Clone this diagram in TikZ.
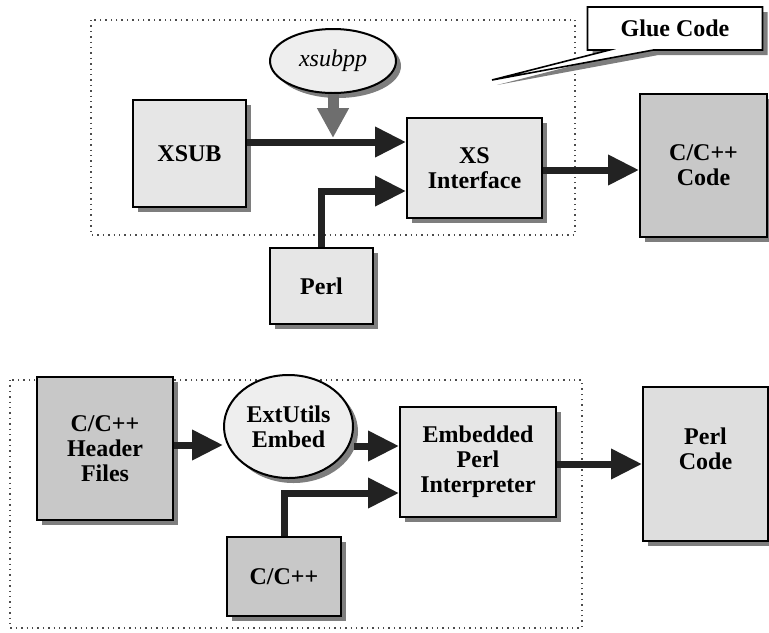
\documentclass[tikz,border=0pt]{standalone}
\usepackage{fontspec}
\setmainfont{Liberation Serif}
\usetikzlibrary{arrows.meta,shapes.geometric,shapes.callouts,shadows}

\definecolor{lightfill}{HTML}{E6E6E6}
\definecolor{darkfill}{HTML}{C8C8C8}
\definecolor{ovalfill}{HTML}{EEEEEE}
\definecolor{shadowgray}{HTML}{7E7E7E}
\definecolor{arrowblack}{HTML}{222222}
\definecolor{tipgray}{HTML}{6E6E6E}

\begin{document}
\begin{tikzpicture}[x=0.5pt,y=-0.5pt,
    font=\fontsize{12}{12.5}\selectfont\bfseries,
    dropsh/.style={drop shadow={shadow xshift=2.5pt,shadow yshift=-2.5pt,
                   fill=shadowgray,opacity=1}},
    blk/.style={draw,line width=1pt,fill=lightfill,inner sep=0pt,
                align=center,dropsh},
    dblk/.style={blk,fill=darkfill},
    oval/.style={draw,ellipse,line width=1pt,fill=ovalfill,inner sep=0pt,
                 align=center,dropsh},
    flow/.style={line width=3.5pt,draw=arrowblack,line join=miter,
                 -{Triangle[length=15.5pt,width=14.5pt]}},
    groupframe/.style={draw=black!70,dotted,line width=0.7pt}]
  \useasboundingbox (0,0) rectangle (769,632);

  % upper part: XS glue
  \draw[groupframe] (91,20) rectangle (575,235);
  \node[blk,minimum width=56.5pt,minimum height=53.5pt] (xsub) at (189.5,153.5) {XSUB};
  \node[oval,minimum width=63pt,minimum height=32pt] (xsubpp) at (333,61)
        {\mdseries\itshape xsubpp};
  \node[blk,minimum width=67.5pt,minimum height=50pt] (xs) at (474.5,168)
        {XS\\Interface};
  \node[blk,minimum width=51.5pt,minimum height=38pt] (perl) at (321.5,286) {Perl};
  \node[dblk,minimum width=63.5pt,minimum height=71.5pt] (ccode) at (703.5,165.5)
        {C/C++\\Code};
  \node[rectangle callout,draw,line width=0.8pt,fill=white,dropsh,
        minimum width=87.5pt,minimum height=21.5pt,inner sep=0pt,
        callout absolute pointer={(492,80)},callout pointer width=22pt]
        (glue) at (675,28.5) {Glue Code};

  \draw[flow] (xsub.east|-0,142) -- (xs.west|-0,142);
  \draw[flow] (perl.north) |- (xs.west|-0,191);
  \draw[flow] (xs.east|-0,170) -- (ccode.west|-0,170);
  \draw[line width=5.5pt,draw=tipgray,fill=tipgray,
        -{Triangle[length=15pt,width=15pt]}]
        (xsubpp.south) -- (xsubpp.south|-0,138);

  % lower part: embedding
  \draw[groupframe] (10,380) rectangle (582,628);
  \node[dblk,minimum width=68pt,minimum height=71.5pt] (header) at (105,448.5)
        {C/C++\\Header\\Files};
  \node[oval,minimum width=64.5pt,minimum height=51.5pt] (embed) at (288.5,426.5)
        {ExtUtils\\Embed};
  \node[blk,minimum width=78pt,minimum height=55pt] (interp) at (478,462)
        {Embedded\\Perl\\Interpreter};
  \node[dblk,minimum width=57pt,minimum height=39.5pt] (cpp) at (284,576.5) {C/C++};
  \node[blk,fill=black!13,minimum width=62.5pt,minimum height=77pt,
        label={[yshift=7.5pt,align=center]center:Perl\\Code}] (pcode) at (705.5,464) {};

  \draw[flow] (header.east|-0,445) -- (embed.west|-0,445);
  \draw[flow] (embed.east|-0,446) -- (interp.west|-0,446);
  \draw[flow] (cpp.north) |- (interp.west|-0,493);
  \draw[flow] (interp.east|-0,464) -- (pcode.west|-0,464);
\end{tikzpicture}
\end{document}
